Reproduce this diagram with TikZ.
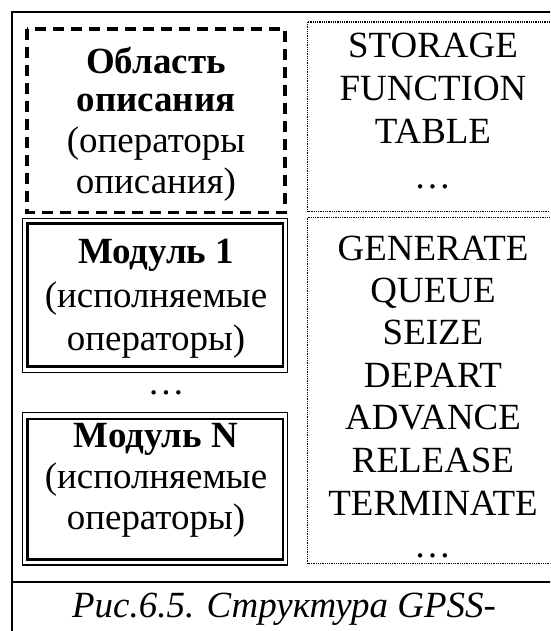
\documentclass[tikz,border=0pt]{standalone}
\usepackage{fontspec}
\setmainfont{Liberation Serif}
\begin{document}
\begin{tikzpicture}[x=0.75pt,y=-0.75pt,
  txt/.style={anchor=base,inner sep=0pt,font=\fontsize{27.7}{32}\selectfont},
  btxt/.style={anchor=base,inner sep=0pt,font=\fontsize{27.7}{32}\selectfont\bfseries},
  itxt/.style={anchor=base,inner sep=0pt,font=\fontsize{27.7}{32}\selectfont\itshape},
  frameline/.style={line width=1.5pt},
  dashbox/.style={line width=2.6pt,dash pattern=on 8.25pt off 5.25pt},
  dotbox/.style={line width=0.9pt,dash pattern=on 0.75pt off 0.6pt},
  thinline/.style={line width=0.8pt},
  thickline/.style={line width=2pt}]
\clip (0,0) rectangle (550,631);
\fill[white] (0,0) rectangle (550,631);

% outer frame and caption separator
\draw[frameline] (12,12) rectangle (556,645);
\draw[frameline] (12,582) -- (556,582);

% description area (dashed)
\draw[dashbox] (27,29) rectangle (285,212.5);
\node[btxt] (d1) at (156,74) {Область};
\node[btxt] (d2) at (156,112) {описания};
\node[txt] (d3) at (156,152) {(операторы};
\node[txt] (d4) at (156,193) {описания)};

% module 1
\draw[thinline] (22.8,218.8) rectangle (287.5,372.5);
\draw[thickline] (27.3,223.3) rectangle (283,366.7);
\node[btxt] (m1a) at (156,263) {Модуль 1};
\node[txt] (m1b) at (156,307) {(исполняемые};
\node[txt] (m1c) at (156,350) {операторы)};

\node[txt] (ldots) at (166,394) {…};

% module N
\draw[thinline] (22.8,412.5) rectangle (287.5,565);
\draw[thickline] (27.3,419) rectangle (283,559.5);
\node[btxt] (mna) at (156,447) {Модуль N};
\node[txt] (mnb) at (156,488) {(исполняемые};
\node[txt] (mnc) at (156,529) {операторы)};

% right column boxes (dotted)
\draw[dotbox] (307.5,22) rectangle (565,211.5);
\draw[dotbox] (307.5,217.5) rectangle (565,563.5);

\node[txt] (s1) at (433,58) {STORAGE};
\node[txt] (s2) at (433,101) {FUNCTION};
\node[txt] (s3) at (433,144) {TABLE};
\node[txt] (s4) at (432.5,188) {…};

\node[txt] (b1) at (433,260) {GENERATE};
\node[txt] (b2) at (433,302) {QUEUE};
\node[txt] (b3) at (433,344) {SEIZE};
\node[txt] (b4) at (433,387) {DEPART};
\node[txt] (b5) at (433,429) {ADVANCE};
\node[txt] (b6) at (433,472) {RELEASE};
\node[txt] (b7) at (433,515) {TERMINATE};
\node[txt] (b8) at (432.5,557) {…};

% caption
\node[itxt] (cap) at (284,617) {Рис.6.5. Структура GPSS-};
\end{tikzpicture}
\end{document}
